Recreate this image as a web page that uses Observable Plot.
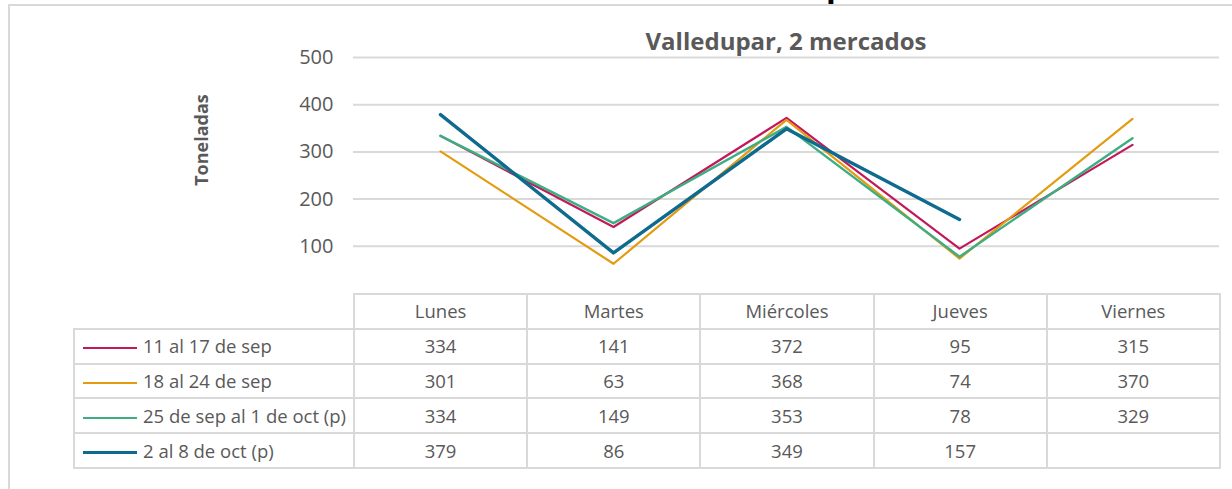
<!DOCTYPE html>
<html><head><meta charset="utf-8">
<script src="https://cdn.jsdelivr.net/npm/d3@7"></script>
<script src="https://cdn.jsdelivr.net/npm/@observablehq/plot@0.6"></script>
<style>
html,body{margin:0;padding:0;background:#fff;}
#wrap{position:relative;width:1232px;height:489px;overflow:hidden;font-family:"Open Sans",Lato,sans-serif;color:#595959;}
#wrap svg{position:absolute;left:0;top:0;}
.frameTop{position:absolute;left:8px;top:4px;width:1224px;height:2px;background:#d9d9d9;}
.frameLeft{position:absolute;left:8px;top:4px;width:2px;height:485px;background:#d9d9d9;}
#title{position:absolute;left:536px;width:500px;top:25px;text-align:center;font-size:24px;font-weight:bold;color:#595959;line-height:32px;}
#ylabel{position:absolute;left:201px;top:140px;transform:translate(-50%,-50%) rotate(-90deg);font-size:18px;font-weight:bold;color:#595959;white-space:nowrap;}
#topp{position:absolute;left:826px;top:-36px;font-size:32px;font-weight:bold;color:#000;line-height:40px;}
table{position:absolute;left:73px;top:293px;border-collapse:collapse;table-layout:fixed;font-size:18.5px;color:#595959;}
td{border:2px solid #d9d9d9;height:32.8px;padding:0;text-align:center;line-height:22px;}
td.lab{text-align:left;white-space:nowrap;}
td.empty{border-top:none;border-left:none;}
.sw{display:inline-block;width:54px;vertical-align:middle;margin:0 6px 0 8px;}
</style></head>
<body><div id="wrap">
<div id="topp">p</div>
<div class="frameTop"></div><div class="frameLeft"></div>
<div id="title">Valledupar, 2 mercados</div>
<div id="ylabel">Toneladas</div>
</div>
<script>
const days = ["Lunes","Martes","Miércoles","Jueves","Viernes"];
const seriesNames = ["11 al 17 de sep","18 al 24 de sep","25 de sep al 1 de oct (p)","2 al 8 de oct (p)"];
const colors = ["#C2185B","#E39B12","#3DAE82","#0E6A8E"];
const widths = [2.2,2.2,2.4,3.4];
const s1 = [334,141,372,95,315];
const s2 = [301,63,368,74,370];
const s3 = [334,149,353,78,329];
const s4 = [379,86,349,157,null];
const yTicks = [100,200,300,400,500];

const allSeries = [s1,s2,s3,s4];
const rows = [];
allSeries.forEach((vals,i)=>vals.forEach((v,j)=>{ if(v!=null) rows.push({series:seriesNames[i],day:days[j],value:v}); }));

const wrap = document.getElementById("wrap");
const chart = Plot.plot({
  width:1232, height:489,
  marginLeft:353, marginRight:13, marginTop:57, marginBottom:196,
  style:{background:"transparent",color:"#595959",fontFamily:"'Open Sans', Lato, sans-serif"},
  x:{type:"point",domain:days,padding:0.5,axis:null},
  y:{domain:[0,500],axis:null},
  marks:[
    Plot.ruleY(yTicks,{stroke:"#d9d9d9",strokeWidth:2}),
    Plot.axisY({ticks:yTicks,tickSize:0,tickPadding:20,fontSize:20,label:null,tickFormat:d=>String(d)}),
    ...seriesNames.map((name,i)=>Plot.line(rows.filter(r=>r.series===name),{x:"day",y:"value",stroke:colors[i],strokeWidth:widths[i],strokeLinejoin:"round"}))
  ]
});
wrap.appendChild(chart);

// data table
const table = document.createElement("table");
const colg = document.createElement("colgroup");
[280,173.2,173.2,173.2,173.2,173.2].forEach(w=>{const c=document.createElement("col");c.style.width=w+"px";colg.appendChild(c);});
table.appendChild(colg);
const hr = document.createElement("tr");
const e = document.createElement("td"); e.className="empty"; hr.appendChild(e);
days.forEach(d=>{const td=document.createElement("td");td.textContent=d;hr.appendChild(td);});
table.appendChild(hr);
allSeries.forEach((vals,i)=>{
  const tr=document.createElement("tr");
  const l=document.createElement("td"); l.className="lab";
  const sw=document.createElement("span"); sw.className="sw"; sw.style.borderTop=widths[i]+"px solid "+colors[i];
  l.appendChild(sw); l.appendChild(document.createTextNode(seriesNames[i])); tr.appendChild(l);
  vals.forEach(v=>{const td=document.createElement("td");td.textContent=v==null?"":v;tr.appendChild(td);});
  table.appendChild(tr);
});
wrap.appendChild(table);
</script>
</body></html>
